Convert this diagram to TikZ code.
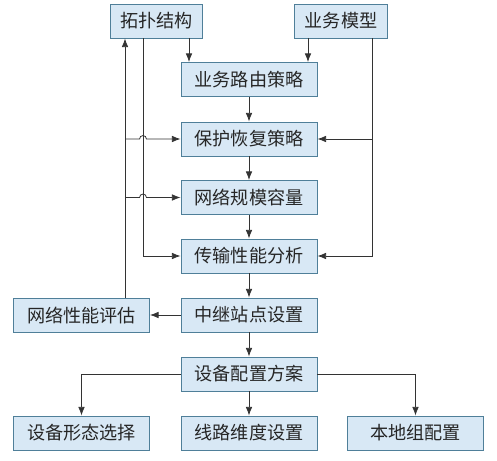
\documentclass[tikz,border=0pt]{standalone}
\usepackage{fontspec}
\usepackage{xcolor}
\usetikzlibrary{arrows.meta}
\newfontfamily\cjk{Noto Sans CJK SC}
\definecolor{boxfill}{HTML}{D8E8F5}
\definecolor{boxline}{HTML}{4F7F99}
\definecolor{wire}{HTML}{333333}
\tikzset{
	stagebox/.style={draw=boxline, fill=boxfill, line width=0.7pt, minimum height=25.5pt, minimum width=102pt, inner sep=0pt, font=\cjk\fontsize{13.6}{13.6}\selectfont, text=black!85},
	inbox/.style={stagebox, minimum width=69.5pt},
	wire/.style={draw=wire, line width=0.6pt},
	arr/.style={wire, -{Latex[length=6.5pt,width=5pt]}}
}
\begin{document}
\begin{tikzpicture}[x=0.75pt,y=-0.75pt]
	\useasboundingbox (0,0) rectangle (497,461);

	\node[inbox] (topo) at (156.5,21) {拓扑结构};
	\node[inbox] (model) at (341,21) {业务模型};
	\node[stagebox] (route) at (249,79.5) {业务路由策略};
	\node[stagebox] (protect) at (249,139) {保护恢复策略};
	\node[stagebox] (scale) at (249,197.5) {网络规模容量};
	\node[stagebox] (perf) at (249,256) {传输性能分析};
	\node[stagebox] (relay) at (249,315) {中继站点设置};
	\node[stagebox] (eval) at (81.5,315) {网络性能评估};
	\node[stagebox] (config) at (249,374) {设备配置方案};
	\node[stagebox] (form) at (81.5,433) {设备形态选择};
	\node[stagebox] (line) at (249,433) {线路维度设置};
	\node[stagebox] (local) at (415.5,433) {本地组配置};

	% columns of the side lines
	\coordinate (fb) at (125,0);
	\coordinate (td) at (143,0);
	\coordinate (tr) at (189,0);
	\coordinate (md) at (308,0);
	\coordinate (mr) at (372,0);

	\draw[arr] (topo.south -| tr) -- (route.north -| tr);
	\draw[arr] (model.south -| md) -- (route.north -| md);
	\draw[arr] (topo.south -| td) |- (perf.west);
	\draw[arr] (eval.north -| fb) -- (topo.south -| fb);
	\draw[arr] (protect.west -| fb) -- ([xshift=-2.6pt]protect.west -| td) arc[start angle=180, end angle=0, radius=2.6pt] -- (protect.west);
	\draw[arr] (scale.west -| fb) -- ([xshift=-2.6pt]scale.west -| td) arc[start angle=180, end angle=0, radius=2.6pt] -- (scale.west);
	\draw[arr] (model.south -| mr) |- (perf.east);
	\draw[arr] (protect.east -| mr) -- (protect.east);

	\draw[arr] (route) -- (protect);
	\draw[arr] (protect) -- (scale);
	\draw[arr] (scale) -- (perf);
	\draw[arr] (perf) -- (relay);
	\draw[arr] (relay) -- (eval);
	\draw[arr] (relay) -- (config);
	\draw[arr] (config) -- (line);
	\draw[arr] (config.west) -| (form.north);
	\draw[arr] (config.east) -| (local.north);

\end{tikzpicture}
\end{document}
